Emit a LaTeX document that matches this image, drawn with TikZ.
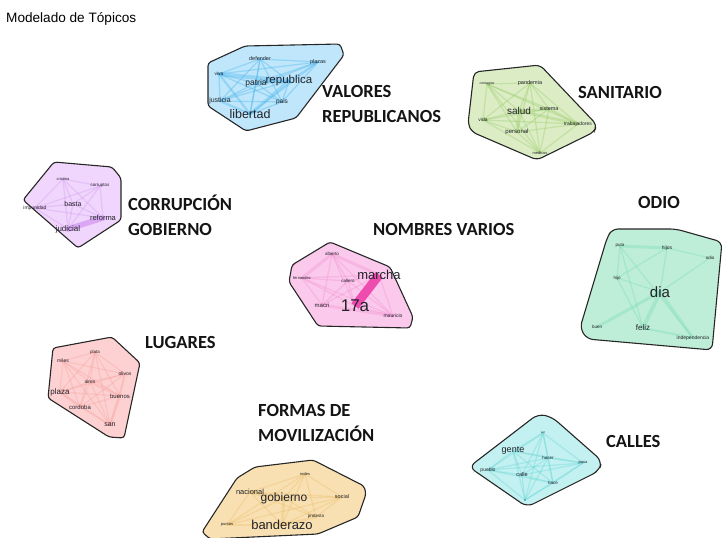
\documentclass[tikz,border=0pt]{standalone}
\usepackage{fontspec}
\setmainfont{Liberation Sans}
\newfontfamily\lblfont{Carlito}
\pgfdeclarelayer{polylayer}
\pgfdeclarelayer{edgelayer}
\pgfsetlayers{polylayer,edgelayer,main}
\definecolor{bluef}{HTML}{BFE6FA}\definecolor{bluee}{HTML}{45B4EE}
\definecolor{sanf}{HTML}{DCEDC6}\definecolor{sane}{HTML}{98CC66}
\definecolor{purf}{HTML}{F0D6FC}\definecolor{pure}{HTML}{D49CF2}
\definecolor{pinkf}{HTML}{FBC9EB}\definecolor{pinke}{HTML}{F290D2}\definecolor{pinkd}{HTML}{EE3FAA}
\definecolor{odif}{HTML}{BEEED7}\definecolor{odie}{HTML}{78DCB4}
\definecolor{lugf}{HTML}{FDD1D1}\definecolor{luge}{HTML}{F8A4A4}
\definecolor{calf}{HTML}{C3F0F0}\definecolor{cale}{HTML}{6AD8D8}
\definecolor{forf}{HTML}{F9E0B2}\definecolor{fore}{HTML}{E9BE6C}
\definecolor{wordc}{HTML}{22222A}
\begin{document}
\begin{tikzpicture}[x=1pt,y=-1pt,
  w/.style={font=\fontsize{#1}{#1}\selectfont, text=wordc, inner sep=0.3pt},
  lbl/.style={font=\lblfont\bfseries\fontsize{18.5}{25}\selectfont, align=left, anchor=west, text=black!92, inner sep=0pt},
  poly/.style={draw=black!85, line width=1.1pt, rounded corners=3pt},
  ed/.style={line width=#1, line cap=round, draw opacity=0.35},
  ed/.default=1.3pt]
\useasboundingbox (0,0) rectangle (726,538);
\node[font=\fontsize{13.6}{14}\selectfont, anchor=west, inner sep=0pt] (title) at (6,19) {Modelado de Tópicos};

% ---------- VALORES REPUBLICANOS ----------
\begin{pgfonlayer}{polylayer}
\fill[bluef] (208,63) -- (245,46) -- (340,44) -- (344,55) -- (296,118) -- (246,131) -- (208,106) -- cycle;
\draw[poly] (208,63) -- (245,46) -- (340,44) -- (344,55) -- (296,118) -- (246,131) -- (208,106) -- cycle;
\end{pgfonlayer}
\node[w=5.5] (v1) at (260,59) {defender};
\node[w=5.5] (v2) at (318,62) {plazas};
\node[w=5] (v3) at (219,74) {viva};
\node[w=8.5] (v4) at (256,83) {patria};
\node[w=11.5] (v5) at (289,81) {republica};
\node[w=7] (v6) at (220,101) {justicia};
\node[w=6.5] (v7) at (282,102) {pais};
\node[w=12.5] (v8) at (250,114) {libertad};
\begin{pgfonlayer}{edgelayer}
\foreach \a/\b in {v1/v2,v1/v3,v1/v4,v1/v5,v1/v6,v1/v7,v1/v8,v2/v3,v2/v4,v2/v5,v2/v6,v2/v7,v2/v8,v3/v4,v3/v6,v3/v7,v4/v6,v4/v7,v4/v8,v5/v6,v5/v7,v6/v7,v7/v8}
  \draw[ed, bluee] (\a.center) -- (\b.center);
\draw[ed=4pt, bluee] (v3.center) -- (v5.center);
\draw[ed=3pt, bluee] (v8.center) -- (v5.center);
\draw[ed=3pt, bluee] (v4.center) -- (v5.center);
\draw[ed=2.2pt, bluee] (v6.center) -- (v8.center);
\draw[ed=2.2pt, bluee] (v3.center) -- (v8.center);
\end{pgfonlayer}
\node[lbl] (lv) at (322,104.5) {VALORES\\REPUBLICANOS};

% ---------- SANITARIO ----------
\begin{pgfonlayer}{polylayer}
\fill[sanf, rounded corners=5pt] (474,72) -- (540,65) -- (597,125) -- (594,132) -- (537,160) -- (472,132) -- (468,124) -- cycle;
\draw[poly, rounded corners=5pt] (474,72) -- (540,65) -- (597,125) -- (594,132) -- (537,160) -- (472,132) -- (468,124) -- cycle;
\end{pgfonlayer}
\node[w=3.5] (s1) at (487,84) {contagios};
\node[w=5.5] (s2) at (530,83) {pandemia};
\node[w=10] (s3) at (519,111) {salud};
\node[w=5.5] (s4) at (549,109) {sistema};
\node[w=5] (s5) at (483,120) {vida};
\node[w=5] (s6) at (578,124) {trabajadores};
\node[w=6] (s7) at (517,132) {personal};
\node[w=4] (s8) at (540,153) {medicos};
\begin{pgfonlayer}{edgelayer}
\foreach \a/\b in {s1/s2,s1/s3,s1/s4,s1/s5,s1/s6,s1/s7,s1/s8,s2/s3,s2/s4,s2/s5,s2/s6,s2/s7,s2/s8,s3/s5,s3/s8,s4/s5,s4/s7,s4/s8,s5/s6,s5/s7,s5/s8,s6/s7,s6/s8,s7/s8}
  \draw[ed, sane] (\a.center) -- (\b.center);
\draw[ed=3pt, sane] (s3.center) -- (s7.center);
\draw[ed=3pt, sane] (s3.center) -- (s6.center);
\draw[ed=2.2pt, sane] (s4.center) -- (s6.center);
\draw[ed=2.2pt, sane] (s3.center) -- (s4.center);
\end{pgfonlayer}
\node[lbl] (ls) at (578,92) {SANITARIO};

% ---------- CORRUPCION GOBIERNO ----------
\begin{pgfonlayer}{polylayer}
\fill[purf] (54,162) -- (112,167) -- (121,178) -- (121,220) -- (78,248) -- (23,200) -- cycle;
\draw[poly] (54,162) -- (112,167) -- (121,178) -- (121,220) -- (78,248) -- (23,200) -- cycle;
\end{pgfonlayer}
\node[w=4] (c1) at (63,179) {cristina};
\node[w=4.5] (c2) at (100,186) {corruptos};
\node[w=7] (c3) at (73,204) {basta};
\node[w=5] (c4) at (35,208) {impunidad};
\node[w=7.5] (c5) at (103,218) {reforma};
\node[w=8] (c6) at (68,229) {judicial};
\begin{pgfonlayer}{edgelayer}
\foreach \a/\b in {c1/c2,c1/c3,c1/c4,c1/c5,c1/c6,c2/c3,c2/c4,c2/c5,c2/c6,c3/c4,c3/c5,c3/c6,c4/c5,c4/c6}
  \draw[ed, pure] (\a.center) -- (\b.center);
\draw[ed=5.5pt, pure, draw opacity=0.8] (c6.center) -- (c5.center);
\end{pgfonlayer}
\node[lbl] (lc) at (128,215.5) {CORRUPCIÓN\\GOBIERNO};

% ---------- NOMBRES VARIOS ----------
\begin{pgfonlayer}{polylayer}
\fill[pinkf] (292,265) -- (330,242) -- (390,267) -- (413,317) -- (410,328) -- (318,326) -- (289,282) -- cycle;
\draw[poly] (292,265) -- (330,242) -- (390,267) -- (413,317) -- (410,328) -- (318,326) -- (289,282) -- cycle;
\end{pgfonlayer}
\node[w=4.5] (n1) at (332,254) {alberto};
\node[w=4] (n2) at (302,278) {fernandez};
\node[w=4.5] (n3) at (348,281) {callero};
\node[w=13] (n4) at (379,275) {marcha};
\node[w=6] (n5) at (322,305) {macri};
\node[w=17] (n6) at (355,306) {17a};
\node[w=5] (n7) at (393,316) {mauricio};
\begin{pgfonlayer}{edgelayer}
\foreach \a/\b in {n1/n3,n1/n5,n1/n6,n1/n7,n2/n3,n2/n4,n2/n5,n2/n6,n2/n7,n3/n4,n3/n5,n3/n6,n3/n7,n4/n5,n4/n7,n6/n7}
  \draw[ed, pinke] (\a.center) -- (\b.center);
\draw[ed=3pt, pinke] (n1.center) -- (n2.center);
\draw[ed=3pt, pinke] (n1.center) -- (n4.center);
\draw[ed=3pt, pinke] (n5.center) -- (n7.center);
\draw[ed=9pt, pinkd, draw opacity=0.9, line cap=butt] (n4.center) -- (n6.center);
\end{pgfonlayer}
\node[lbl] (ln) at (373,229) {NOMBRES VARIOS};

% ---------- ODIO ----------
\begin{pgfonlayer}{polylayer}
\fill[odif, rounded corners=6pt] (612,229) -- (676,229) -- (722,242) -- (712,350) -- (587,339) -- (580,328) -- (607,238) -- cycle;
\draw[poly, rounded corners=6pt] (612,229) -- (676,229) -- (722,242) -- (712,350) -- (587,339) -- (580,328) -- (607,238) -- cycle;
\end{pgfonlayer}
\node[w=4.5] (o1) at (620,246) {puta};
\node[w=5] (o2) at (667,248) {hijos};
\node[w=4.5] (o3) at (710,258) {odio};
\node[w=4.5] (o4) at (617,278) {hijo};
\node[w=15] (o5) at (660,292) {dia};
\node[w=8] (o6) at (597,327) {\fontsize{4.5}{5}\selectfont buen};
\node[w=8] (o7) at (643,328) {feliz};
\node[w=5] (o8) at (693,338) {independencia};
\begin{pgfonlayer}{edgelayer}
\foreach \a/\b in {o1/o4,o1/o8,o1/o7,o2/o4,o2/o3,o2/o5,o3/o5,o4/o5,o4/o7}
  \draw[ed, odie] (\a.center) -- (\b.center);
\draw[ed=3pt, odie] (o1.center) -- (o2.center);
\draw[ed=4pt, odie] (o5.center) -- (o7.center);
\draw[ed=3pt, odie] (o5.center) -- (o6.center);
\draw[ed=3pt, odie] (o5.center) -- (o8.center);
\draw[ed=2.2pt, odie] (o7.center) -- (o8.center);
\end{pgfonlayer}
\node[lbl] (lo) at (638,202) {ODIO};

% ---------- LUGARES ----------
\begin{pgfonlayer}{polylayer}
\fill[lugf] (53,348) -- (112,337) -- (140,363) -- (124,438) -- (109,437) -- (48,398) -- cycle;
\draw[poly] (53,348) -- (112,337) -- (140,363) -- (124,438) -- (109,437) -- (48,398) -- cycle;
\end{pgfonlayer}
\node[w=4.5] (l1) at (95,352) {plata};
\node[w=5] (l2) at (63,361) {miles};
\node[w=5] (l3) at (125,374) {olivos};
\node[w=5] (l4) at (90,382) {aires};
\node[w=8] (l5) at (60,392) {plaza};
\node[w=6] (l6) at (120,396) {buenos};
\node[w=6] (l7) at (80,407) {cordoba};
\node[w=7] (l8) at (110,425) {san};
\begin{pgfonlayer}{edgelayer}
\foreach \a/\b in {l1/l2,l1/l3,l1/l4,l1/l5,l1/l6,l1/l7,l1/l8,l2/l3,l2/l4,l2/l5,l2/l6,l2/l7,l2/l8,l3/l4,l3/l5,l3/l6,l3/l7,l3/l8,l4/l5,l4/l7,l4/l8,l5/l6,l5/l8,l6/l7,l7/l8}
  \draw[ed, luge] (\a.center) -- (\b.center);
\draw[ed=2.5pt, luge] (l5.center) -- (l7.center);
\draw[ed=2.5pt, luge] (l4.center) -- (l6.center);
\draw[ed=2.5pt, luge] (l6.center) -- (l8.center);
\end{pgfonlayer}
\node[lbl] (ll) at (145,342) {LUGARES};

% ---------- CALLES ----------
\begin{pgfonlayer}{polylayer}
\fill[calf, rounded corners=7pt] (469,467) -- (538,414) -- (552,417) -- (602,461) -- (599,471) -- (527,507) -- cycle;
\draw[poly, rounded corners=7pt] (469,467) -- (538,414) -- (552,417) -- (602,461) -- (599,471) -- (527,507) -- cycle;
\end{pgfonlayer}
\node[w=3] (k1) at (543,433) {ver};
\node[w=9] (k2) at (513,451) {gente};
\node[w=4.5] (k3) at (548,458) {hacer};
\node[w=4] (k4) at (583,463) {pasa};
\node[w=5] (k5) at (488,470) {pueblo};
\node[w=5.5] (k6) at (522,475) {calle};
\node[w=4.5] (k7) at (553,483) {hace};
\node[w=3] (k8) at (525,500) {ir};
\begin{pgfonlayer}{edgelayer}
\foreach \a/\b in {k1/k2,k1/k3,k1/k4,k1/k5,k1/k6,k1/k7,k1/k8,k2/k3,k2/k4,k2/k5,k2/k6,k2/k7,k2/k8,k3/k4,k3/k5,k3/k6,k3/k7,k3/k8,k4/k5,k4/k6,k4/k7,k4/k8,k5/k6,k5/k7,k5/k8,k6/k7,k6/k8,k7/k8}
  \draw[ed, cale] (\a.center) -- (\b.center);
\end{pgfonlayer}
\node[lbl] (lk) at (606,441) {CALLES};

% ---------- FORMAS DE MOVILIZACION ----------
\begin{pgfonlayer}{polylayer}
\fill[forf] (237,478) -- (255,467) -- (313,460) -- (364,486) -- (366,494) -- (358,517) -- (318,534) -- (210,539) -- (202,532) -- cycle;
\draw[poly] (237,478) -- (255,467) -- (313,460) -- (364,486) -- (366,494) -- (358,517) -- (318,534) -- (210,539) -- (202,532) -- cycle;
\end{pgfonlayer}
\node[w=4] (f1) at (305,474) {redes};
\node[w=7.5] (f2) at (250,492) {nacional};
\node[w=12] (f3) at (284,498) {gobierno};
\node[w=5.5] (f4) at (342,497) {social};
\node[w=4.5] (f5) at (316,517) {protesta};
\node[w=4] (f6) at (227,525) {puntos};
\node[w=13] (f7) at (282,525) {banderazo};
\begin{pgfonlayer}{edgelayer}
\foreach \a/\b in {f1/f2,f1/f3,f1/f4,f1/f5,f1/f6,f1/f7,f2/f4,f2/f5,f2/f6,f2/f7,f3/f4,f3/f5,f3/f6,f4/f5,f4/f6,f4/f7,f6/f7}
  \draw[ed, fore] (\a.center) -- (\b.center);
\draw[ed=3pt, fore] (f2.center) -- (f3.center);
\draw[ed=3pt, fore] (f3.center) -- (f7.center);
\draw[ed=2.5pt, fore] (f7.center) -- (f5.center);
\end{pgfonlayer}
\node[lbl] (lf) at (258,422.5) {FORMAS DE\\MOVILIZACIÓN};
\end{tikzpicture}
\end{document}
